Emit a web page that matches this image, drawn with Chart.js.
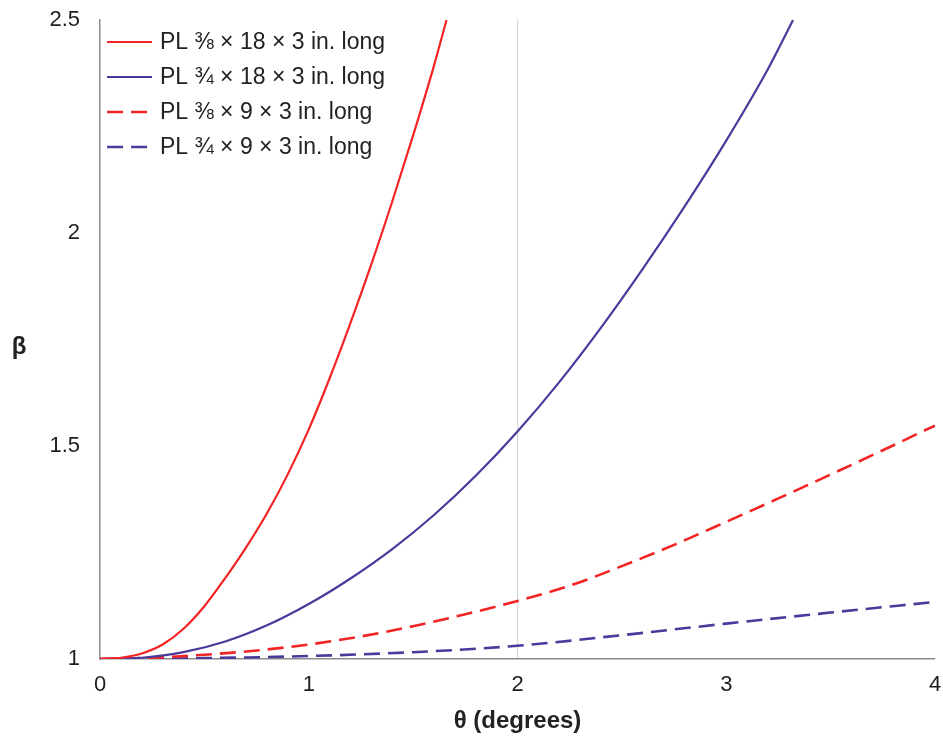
<!DOCTYPE html>
<html><head><meta charset="utf-8">
<script src="https://cdn.jsdelivr.net/npm/chart.js@4"></script>
<style>html,body{margin:0;padding:0;background:#fff;overflow:hidden;}</style>
</head><body>
<canvas id="c" width="943" height="742" style="width:943px;height:742px;display:block"></canvas>
<script>
// ---- data ----
const seriesLabels = [
  'PL \u215C \u00D7 18 \u00D7 3 in. long',
  'PL \u00BE \u00D7 18 \u00D7 3 in. long',
  'PL \u215C \u00D7 9 \u00D7 3 in. long',
  'PL \u00BE \u00D7 9 \u00D7 3 in. long'
];
const thetaRed18 = [0, 0.1, 0.2, 0.3, 0.4, 0.5, 0.6, 0.7, 0.8, 0.9, 1.0, 1.1, 1.2, 1.3, 1.4, 1.5, 1.6, 1.66];
const betaRed18  = [1.000, 1.003, 1.013, 1.034, 1.071, 1.124, 1.190, 1.262, 1.342, 1.434, 1.539, 1.659, 1.789, 1.927, 2.074, 2.229, 2.393, 2.500];
const thetaBlue18 = [0, 0.2, 0.4, 0.6, 0.8, 1.0, 1.2, 1.4, 1.6, 1.8, 2.0, 2.2, 2.4, 2.6, 2.8, 3.0, 3.2, 3.32];
const betaBlue18  = [1.000, 1.003, 1.016, 1.041, 1.079, 1.129, 1.189, 1.258, 1.338, 1.430, 1.534, 1.650, 1.778, 1.916, 2.062, 2.217, 2.385, 2.500];
const thetaRed9 = [0, 0.25, 0.5, 0.75, 1.0, 1.25, 1.5, 1.75, 2.0, 2.25, 2.5, 2.75, 3.0, 3.25, 3.5, 3.75, 4.0];
const betaRed9  = [1.000, 1.003, 1.010, 1.020, 1.034, 1.053, 1.077, 1.105, 1.136, 1.172, 1.218, 1.268, 1.322, 1.377, 1.433, 1.490, 1.548];
const thetaBlue9 = [0, 0.5, 1.0, 1.5, 2.0, 2.5, 3.0, 3.5, 4.0];
const betaBlue9  = [1.000, 1.002, 1.007, 1.016, 1.031, 1.056, 1.083, 1.109, 1.134];
const xTickValues = [0, 1, 2, 3, 4];
const yTickValues = [1, 1.5, 2, 2.5];
const xTitle = '\u03B8 (degrees)';
const yTitle = '\u03B2';

// ---- styling ----
const RED = '#f22424';
const BLUE = '#4a3a9c';
const FONT = '"Liberation Sans", Arial, Helvetica, sans-serif';
const pts = (xs, ys) => xs.map((x, i) => ({x: x, y: ys[i]}));

const seriesStyle = [
  {color: RED, dash: [], width: 2.2},
  {color: BLUE, dash: [], width: 2.2},
  {color: RED, dash: [16, 8], width: 2.6},
  {color: BLUE, dash: [16, 8], width: 2.6}
];
const seriesData = [
  pts(thetaRed18, betaRed18),
  pts(thetaBlue18, betaBlue18),
  pts(thetaRed9, betaRed9),
  pts(thetaBlue9, betaBlue9)
];

const datasets = seriesData.map((d, i) => ({
  label: seriesLabels[i],
  data: d,
  borderColor: seriesStyle[i].color,
  backgroundColor: seriesStyle[i].color,
  borderWidth: seriesStyle[i].width,
  borderDash: seriesStyle[i].dash,
  pointRadius: 0,
  fill: false,
  cubicInterpolationMode: 'monotone'
}));

const legendPlugin = {
  id: 'innerLegend',
  afterDraw(chart) {
    const ctx = chart.ctx;
    const rows = [42, 77, 112, 147];
    ctx.save();
    chart.data.datasets.forEach((ds, i) => {
      const y = rows[i];
      ctx.beginPath();
      ctx.setLineDash(ds.borderDash || []);
      ctx.lineWidth = ds.borderWidth;
      ctx.strokeStyle = ds.borderColor;
      ctx.moveTo(107, y);
      ctx.lineTo(152, y);
      ctx.stroke();
      ctx.setLineDash([]);
      ctx.fillStyle = '#222';
      ctx.font = '23px ' + FONT;
      ctx.textAlign = 'left';
      ctx.textBaseline = 'middle';
      ctx.fillText(ds.label, 160, y + 1);
    });
    // y-axis title, drawn unrotated as in the reference
    ctx.font = 'bold 24px ' + FONT;
    ctx.fillStyle = '#222';
    ctx.textAlign = 'center';
    ctx.textBaseline = 'middle';
    const ya = chart.scales.y;
    ctx.fillText(yTitle, 19, (ya.top + ya.bottom) / 2 + 8);
    ctx.restore();
  }
};

new Chart(document.getElementById('c'), {
  type: 'line',
  data: {datasets: datasets},
  plugins: [legendPlugin],
  options: {
    responsive: false,
    animation: false,
    devicePixelRatio: 1,
    layout: {padding: {left: 0, right: 8, top: 20, bottom: 0}},
    plugins: {legend: {display: false}, tooltip: {enabled: false}},
    scales: {
      x: {
        type: 'linear',
        min: 0, max: 4,
        afterBuildTicks: (s) => { s.ticks = xTickValues.map(v => ({value: v})); },
        afterFit: (s) => { s.height = 83; s.paddingLeft = 0; s.paddingRight = 0; },
        ticks: {font: {size: 22, family: FONT}, color: '#1e1e1e', padding: 13, maxRotation: 0,
                callback: (v) => String(v)},
        grid: {
          drawTicks: false,
          color: (c) => (c.tick && c.tick.value === 2) ? '#d9d9d9' : 'rgba(0,0,0,0)',
          lineWidth: 1.2
        },
        border: {display: true, color: '#8c8c8c', width: 1.5},
        title: {display: true, text: xTitle, font: {size: 24, weight: 'bold', family: FONT}, color: '#222', padding: {top: 0, bottom: 6}}
      },
      y: {
        type: 'linear',
        min: 1, max: 2.5,
        afterBuildTicks: (s) => { s.ticks = yTickValues.map(v => ({value: v})); },
        afterFit: (s) => { s.width = 100; s.paddingTop = 0; s.paddingBottom = 0; },
        ticks: {font: {size: 22, family: FONT}, color: '#1e1e1e', padding: 20,
                callback: (v) => String(v)},
        grid: {display: false, drawTicks: false},
        border: {display: true, color: '#8c8c8c', width: 1.5}
      }
    }
  }
});
</script>
</body></html>
